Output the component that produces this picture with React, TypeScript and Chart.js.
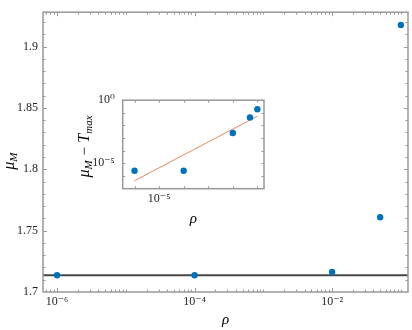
import React, { useEffect, useRef } from "react";
import { Chart, registerables } from "chart.js";

Chart.register(...registerables);

// ---------- data ----------
const RHO = [1e-6, 1e-4, 1e-2, 5e-2, 1e-1];
const MU_M = [1.7137, 1.7137, 1.7163, 1.7609, 1.9176];
const T_MAX = 1.7137;

const INSET_RHO = [1e-6, 1e-4, 1e-2, 5e-2, 1e-1];
const INSET_DIFF = [2.45e-6, 2.45e-6, 2.45e-3, 0.0427, 0.193];
const FIT_RHO = [1e-6, 1e-1];
const FIT_DIFF = [4.0e-7, 0.054];

const X_TICKS = [1e-6, 1e-4, 1e-2];
const X_TICK_LABELS = ["10⁻⁶", "10⁻⁴", "10⁻²"];
const Y_TICKS = [1.7, 1.75, 1.8, 1.85, 1.9];
const Y_TICK_LABELS = ["1.7", "1.75", "1.8", "1.85", "1.9"];
const Y_MINOR = [1.71, 1.72, 1.73, 1.74, 1.76, 1.77, 1.78, 1.79, 1.81, 1.82, 1.83, 1.84, 1.86, 1.87, 1.88, 1.89, 1.91, 1.92];

const INSET_X_TICKS = [1e-5];
const INSET_X_TICK_LABELS = ["10⁻⁵"];
const INSET_Y_TICKS = [1e0, 1e-5];
const INSET_Y_TICK_LABELS = ["10⁰", "10⁻⁵"];

// ---------- axis limits ----------
const X_MIN = 6.25e-7;
const X_MAX = 0.127;
const Y_MIN = 1.7;
const Y_MAX = 1.928;
const IX_MIN = 3.3e-7;
const IX_MAX = 0.186;
const IY_MIN = 9.3e-8;
const IY_MAX = 1;

const FONT = "'Liberation Serif', 'DejaVu Serif', serif";
const BLUE = "#0072BD";
const FRAME = "#999999";

function logMinorTicks(min: number, max: number, skip: number[]) {
  const out: number[] = [];
  for (let e = Math.floor(Math.log10(min)); e <= Math.ceil(Math.log10(max)); e++) {
    for (let m = 1; m <= 9; m++) {
      const v = m * Math.pow(10, e);
      if (v < min || v > max) continue;
      if (skip.some((s) => Math.abs(Math.log10(s) - Math.log10(v)) < 1e-9)) continue;
      out.push(v);
    }
  }
  return out;
}
function decadeTicks(min: number, max: number) {
  const out: number[] = [];
  for (let e = Math.ceil(Math.log10(min)); e <= Math.floor(Math.log10(max) + 1e-9); e++) out.push(Math.pow(10, e));
  return out;
}

function findLabel(values: number[], labels: string[], v: number, log: boolean) {
  const i = values.findIndex((t) =>
    log ? Math.abs(Math.log10(t) - Math.log10(v)) < 1e-6 : Math.abs(t - v) < 1e-9
  );
  return i >= 0 ? labels[i] : "";
}

// plugin: white plot background, frame, inward ticks on all four sides
const boxTicks = {
  id: "boxTicks",
  beforeDraw(chart: any, _a: any, opts: any) {
    if (!opts || !opts.fill) return;
    const { ctx, chartArea: ca } = chart;
    ctx.save();
    ctx.fillStyle = "#ffffff";
    ctx.fillRect(ca.left, ca.top, ca.right - ca.left, ca.bottom - ca.top);
    ctx.restore();
  },
  afterDraw(chart: any, _a: any, opts: any) {
    if (!opts || !opts.xMajor) return;
    const { ctx, chartArea: ca, scales } = chart;
    const xs = scales.x;
    const ys = scales.y;
    ctx.save();
    ctx.strokeStyle = FRAME;
    ctx.lineWidth = 1;
    const tick = (vals: number[], len: number, horiz: boolean) => {
      vals.forEach((v) => {
        if (horiz) {
          const p = Math.round(xs.getPixelForValue(v)) + 0.5;
          if (p < ca.left || p > ca.right) return;
          ctx.beginPath();
          ctx.moveTo(p, ca.bottom);
          ctx.lineTo(p, ca.bottom - len);
          ctx.moveTo(p, ca.top);
          ctx.lineTo(p, ca.top + len);
          ctx.stroke();
        } else {
          const p = Math.round(ys.getPixelForValue(v)) + 0.5;
          if (p < ca.top || p > ca.bottom) return;
          ctx.beginPath();
          ctx.moveTo(ca.left, p);
          ctx.lineTo(ca.left + len, p);
          ctx.moveTo(ca.right, p);
          ctx.lineTo(ca.right - len, p);
          ctx.stroke();
        }
      });
    };
    tick(opts.xMajor, opts.majorLen, true);
    tick(opts.xMinor, opts.minorLen, true);
    tick(opts.yMajor, opts.majorLen, false);
    tick(opts.yMinor, opts.minorLen, false);
    ctx.lineWidth = 1.5;
    ctx.strokeRect(ca.left, ca.top, ca.right - ca.left, ca.bottom - ca.top);
    ctx.restore();
  },
};

type Seg = { t: string; size: number; dy: number };

// plugin: rotated y-axis title with subscripts
const subTitle = {
  id: "subTitle",
  afterDraw(chart: any, _a: any, opts: any) {
    if (!opts || !opts.segs) return;
    const { ctx, chartArea: ca } = chart;
    const segs: Seg[] = opts.segs;
    ctx.save();
    ctx.fillStyle = "#000";
    ctx.textBaseline = "alphabetic";
    let total = 0;
    segs.forEach((s) => {
      ctx.font = `italic ${s.size}px ${FONT}`;
      total += ctx.measureText(s.t).width;
    });
    const cy = (ca.top + ca.bottom) / 2 + (opts.dy || 0);
    ctx.translate(opts.x, cy);
    ctx.rotate(-Math.PI / 2);
    let x = -total / 2;
    segs.forEach((s) => {
      ctx.font = `italic ${s.size}px ${FONT}`;
      ctx.fillText(s.t, x, s.dy);
      x += ctx.measureText(s.t).width;
    });
    ctx.restore();
  },
};

export default function App() {
  const mainRef = useRef<HTMLCanvasElement | null>(null);
  const insetRef = useRef<HTMLCanvasElement | null>(null);

  useEffect(() => {
    document.body.style.margin = "0";
    const tickFont = { family: FONT, size: 12 };

    const main = new Chart(mainRef.current as HTMLCanvasElement, {
      type: "scatter",
      data: {
        datasets: [
          {
            label: "μ_M",
            data: RHO.map((x, i) => ({ x, y: MU_M[i] })),
            backgroundColor: BLUE,
            borderColor: BLUE,
            pointRadius: 3.2,
            borderWidth: 0,
          },
          {
            type: "line",
            label: "T_max",
            data: [
              { x: X_MIN, y: T_MAX },
              { x: X_MAX, y: T_MAX },
            ],
            borderColor: "#474747",
            borderWidth: 2,
            pointRadius: 0,
          } as any,
        ],
      },
      options: {
        animation: false,
        responsive: false,
        devicePixelRatio: 1,
        layout: { padding: { top: 3, right: 4, left: 0, bottom: 0 } },
        plugins: {
          legend: { display: false },
          tooltip: { enabled: false },
          boxTicks: {
            fill: false,
            xMajor: X_TICKS,
            xMinor: logMinorTicks(X_MIN, X_MAX, X_TICKS),
            yMajor: Y_TICKS,
            yMinor: Y_MINOR,
            majorLen: 4,
            minorLen: 2.5,
          },
          subTitle: {
            x: 14,
            dy: 9,
            segs: [
              { t: "μ", size: 16, dy: 0 },
              { t: "M", size: 11, dy: 3 },
            ],
          },
        } as any,
        scales: {
          x: {
            type: "logarithmic",
            min: X_MIN,
            max: X_MAX,
            afterBuildTicks: (s: any) => {
              s.ticks = X_TICKS.map((v) => ({ value: v }));
            },
            afterFit: (s: any) => {
              s.height = 38;
            },
            ticks: {
              callback: (v: any) => findLabel(X_TICKS, X_TICK_LABELS, Number(v), true),
              font: tickFont,
              color: "#262626",
              padding: 3,
              maxRotation: 0,
              autoSkip: false,
            },
            grid: { display: false, drawTicks: false },
            border: { display: false },
            title: {
              display: true,
              text: "ρ",
              color: "#000",
              font: { family: FONT, size: 15, style: "italic" },
              padding: { top: 0, bottom: 1 },
            },
          },
          y: {
            type: "linear",
            min: Y_MIN,
            max: Y_MAX,
            afterBuildTicks: (s: any) => {
              s.ticks = Y_TICKS.map((v) => ({ value: v }));
            },
            afterFit: (s: any) => {
              s.width = 43;
            },
            ticks: {
              callback: (v: any) => findLabel(Y_TICKS, Y_TICK_LABELS, Number(v), false),
              font: tickFont,
              color: "#262626",
              padding: 5,
            },
            grid: { display: false, drawTicks: false },
            border: { display: false },
          },
        },
      },
      plugins: [boxTicks, subTitle],
    });

    const inset = new Chart(insetRef.current as HTMLCanvasElement, {
      type: "scatter",
      data: {
        datasets: [
          {
            label: "μ_M − T_max",
            data: INSET_RHO.map((x, i) => ({ x, y: INSET_DIFF[i] })),
            backgroundColor: BLUE,
            borderColor: BLUE,
            pointRadius: 3.2,
            borderWidth: 0,
          },
          {
            type: "line",
            label: "fit",
            data: FIT_RHO.map((x, i) => ({ x, y: FIT_DIFF[i] })),
            borderColor: "#e58a5c",
            borderWidth: 1,
            pointRadius: 0,
          } as any,
        ],
      },
      options: {
        animation: false,
        responsive: false,
        devicePixelRatio: 1,
        layout: { padding: { top: 15, right: 6, left: 0, bottom: 0 } },
        plugins: {
          legend: { display: false },
          tooltip: { enabled: false },
          boxTicks: {
            fill: true,
            xMajor: decadeTicks(IX_MIN, IX_MAX),
            xMinor: [],
            yMajor: decadeTicks(IY_MIN, IY_MAX),
            yMinor: [],
            majorLen: 2.5,
            minorLen: 2,
          },
          subTitle: {
            x: 19,
            dy: 2,
            segs: [
              { t: "μ", size: 16, dy: 0 },
              { t: "M", size: 11, dy: 3 },
              { t: " − ", size: 15, dy: 0 },
              { t: "T", size: 16, dy: 0 },
              { t: "max", size: 11, dy: 3 },
            ],
          },
        } as any,
        scales: {
          x: {
            type: "logarithmic",
            min: IX_MIN,
            max: IX_MAX,
            afterBuildTicks: (s: any) => {
              s.ticks = INSET_X_TICKS.map((v) => ({ value: v }));
            },
            afterFit: (s: any) => {
              s.height = 41.3;
            },
            ticks: {
              callback: (v: any) => findLabel(INSET_X_TICKS, INSET_X_TICK_LABELS, Number(v), true),
              font: tickFont,
              color: "#262626",
              padding: 3,
              maxRotation: 0,
              autoSkip: false,
            },
            grid: { display: false, drawTicks: false },
            border: { display: false },
            title: {
              display: true,
              text: "ρ",
              color: "#000",
              font: { family: FONT, size: 15, style: "italic" },
              padding: { top: 0, bottom: 2 },
            },
          },
          y: {
            type: "logarithmic",
            min: IY_MIN,
            max: IY_MAX,
            afterBuildTicks: (s: any) => {
              s.ticks = INSET_Y_TICKS.map((v) => ({ value: v }));
            },
            afterFit: (s: any) => {
              s.width = 52.7;
            },
            ticks: {
              callback: (v: any) => findLabel(INSET_Y_TICKS, INSET_Y_TICK_LABELS, Number(v), true),
              font: tickFont,
              color: "#262626",
              padding: 8,
            },
            grid: { display: false, drawTicks: false },
            border: { display: false },
          },
        },
      },
      plugins: [boxTicks, subTitle],
    });

    return () => {
      main.destroy();
      inset.destroy();
    };
  }, []);

  return (
    <div style={{ position: "fixed", left: 0, top: 0, width: 412, height: 330, background: "#fff" }}>
      <canvas ref={mainRef} width={412} height={330} style={{ position: "absolute", left: 0, top: 0, width: 412, height: 330 }} />
      <canvas ref={insetRef} width={200} height={145} style={{ position: "absolute", left: 70, top: 85, width: 200, height: 145 }} />
    </div>
  );
}
